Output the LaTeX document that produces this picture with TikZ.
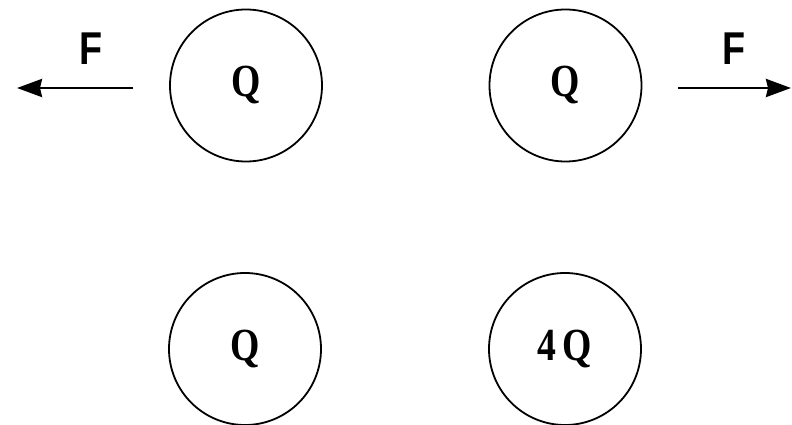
\documentclass[tikz,border=0pt]{standalone}
\usepackage{fontspec}
\usepackage{graphicx}
\usepackage{tikz}
\usetikzlibrary{arrows.meta,positioning}

\newfontfamily\chargefont{Liberation Serif}
\newfontfamily\forcefont{Liberation Sans}
\newcommand{\narrowtext}[1]{\scalebox{0.82}[1]{#1}}

\begin{document}
\begin{tikzpicture}[
    x=1pt, y=1pt,
    charge/.style={circle, draw, line width=1.8pt, minimum size=152pt, inner sep=0pt,
        font=\chargefont\bfseries\fontsize{46}{46}\selectfont},
    force/.style={line width=2.8pt, -{Stealth[length=25pt,width=18pt,inset=2pt]}},
    flabel/.style={inner sep=0pt, font=\forcefont\bfseries\fontsize{46}{46}\selectfont}
]
\useasboundingbox (0,0) rectangle (792,425);

% top row
\node[charge] (q1) at (246,339.5) {\raisebox{-5pt}{\narrowtext{Q}}};
\node[charge] (q2) at (565.5,339.5) {\raisebox{-5pt}{\narrowtext{Q}}};

% bottom row
\node[charge] (q3) at (245,76) {\raisebox{-5pt}{\narrowtext{Q}}};
\node[charge] (q4) at (565,76) {\raisebox{-5pt}{\narrowtext{4\,Q}}};

% forces
\coordinate (ls) at (133,337);
\coordinate (le) at (17,337);
\coordinate (rs) at (678,337);
\coordinate (re) at (791,337);
\draw[force] (ls) -- node[flabel, pos=0.36, above=22pt] {\narrowtext{F}} (le);
\draw[force] (rs) -- node[flabel, pos=0.5, above=22pt] {\narrowtext{F}} (re);

\end{tikzpicture}
\end{document}
